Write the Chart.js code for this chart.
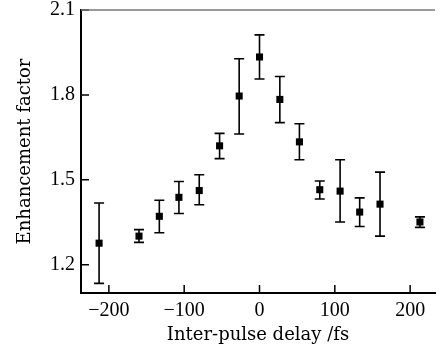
<!DOCTYPE html>
<html lang="en">
<head>
    <meta charset="UTF-8">
    <title>Enhancement factor</title>
    <script src="https://cdn.jsdelivr.net/npm/chart.js"></script>
    <style>
        html, body { margin: 0; padding: 0; background: #fff; }
        #wrap { width: 440px; height: 346px; }
    </style>
</head>
<body>
    <div id="wrap"><canvas id="chart"></canvas></div>

    <script>
        // Data
        const delay = [-213, -160, -133, -107, -80, -53, -27, 0, 27, 53, 80, 107, 133, 160, 213];
        const factor = [1.276, 1.301, 1.371, 1.438, 1.462, 1.620, 1.796, 1.934, 1.784, 1.634, 1.465, 1.460, 1.386, 1.414, 1.351];
        const errTop = [1.418, 1.324, 1.428, 1.494, 1.518, 1.664, 1.928, 2.012, 1.865, 1.698, 1.496, 1.571, 1.436, 1.527, 1.369];
        const errBottom = [1.134, 1.279, 1.313, 1.381, 1.412, 1.575, 1.662, 1.856, 1.702, 1.571, 1.432, 1.351, 1.335, 1.301, 1.332];
        const xTicks = [-200, -100, 0, 100, 200];
        const yTicks = [1.2, 1.5, 1.8, 2.1];

        const points = delay.map((d, i) => ({ x: d, y: factor[i] }));
        // tick digits: narrow serif; axis titles: wider serif
        const tickFont = { family: "'Liberation Serif', serif", size: 20 };
        const titleFont = { family: "'DejaVu Serif', serif", size: 18 };

        // error bars, inward ticks and top frame line
        const extras = {
            id: 'extras',
            afterDatasetsDraw(chart) {
                const ctx = chart.ctx;
                const xs = chart.scales.x, ys = chart.scales.y;
                const area = chart.chartArea;
                ctx.save();
                ctx.strokeStyle = '#000';
                ctx.lineWidth = 1.6;
                delay.forEach((d, i) => {
                    const px = xs.getPixelForValue(d);
                    const t = ys.getPixelForValue(errTop[i]);
                    const b = ys.getPixelForValue(errBottom[i]);
                    ctx.beginPath();
                    ctx.moveTo(px, t); ctx.lineTo(px, b);
                    ctx.moveTo(px - 5, t); ctx.lineTo(px + 5, t);
                    ctx.moveTo(px - 5, b); ctx.lineTo(px + 5, b);
                    ctx.stroke();
                });
                // ticks pointing into the plot
                ctx.lineWidth = 1.5;
                ctx.beginPath();
                yTicks.forEach(v => {
                    const py = ys.getPixelForValue(v);
                    ctx.moveTo(area.left, py); ctx.lineTo(area.left + 8, py);
                });
                xTicks.forEach(v => {
                    const px = xs.getPixelForValue(v);
                    ctx.moveTo(px, area.bottom); ctx.lineTo(px, area.bottom - 8);
                });
                ctx.stroke();
                // top frame line
                ctx.strokeStyle = '#777';
                ctx.lineWidth = 1.5;
                ctx.beginPath();
                ctx.moveTo(area.left, area.top); ctx.lineTo(area.right, area.top);
                ctx.stroke();
                ctx.restore();
            }
        };

        new Chart(document.getElementById('chart'), {
            type: 'scatter',
            data: {
                datasets: [{
                    data: points,
                    pointStyle: 'rect',
                    pointRadius: 5,
                    pointHoverRadius: 5,
                    backgroundColor: '#000',
                    borderColor: '#000',
                    borderWidth: 0
                }]
            },
            options: {
                responsive: true,
                maintainAspectRatio: false,
                animation: false,
                layout: { padding: { top: 10, right: 0, left: 0, bottom: 0 } },
                plugins: { legend: { display: false }, tooltip: { enabled: false } },
                scales: {
                    x: {
                        type: 'linear',
                        min: -237,
                        max: 233,
                        afterBuildTicks: s => { s.ticks = xTicks.map(v => ({ value: v })); },
                        afterFit: s => { s.height = 53; s.paddingLeft = 0; s.paddingRight = 0; },
                        grid: { display: false, drawTicks: false },
                        border: { display: true, color: '#000', width: 2 },
                        ticks: {
                            color: '#000',
                            padding: 6,
                            maxRotation: 0,
                            font: tickFont,
                            callback: v => (v < 0 ? '\u2212' + Math.abs(v) : String(v))
                        },
                        title: {
                            display: true,
                            text: 'Inter-pulse delay /fs',
                            color: '#000',
                            padding: { top: 0, bottom: 0 },
                            font: titleFont
                        }
                    },
                    y: {
                        min: 1.1,
                        max: 2.1,
                        afterBuildTicks: s => { s.ticks = yTicks.map(v => ({ value: v })); },
                        afterFit: s => { s.width = 81; s.paddingTop = 0; s.paddingBottom = 0; },
                        grid: { display: false, drawTicks: false },
                        border: { display: true, color: '#000', width: 2 },
                        ticks: {
                            color: '#000',
                            padding: 6,
                            font: tickFont,
                            callback: v => v.toFixed(1)
                        },
                        title: {
                            display: true,
                            text: 'Enhancement factor',
                            color: '#000',
                            padding: { top: 15, bottom: 0 },
                            font: titleFont
                        }
                    }
                }
            },
            plugins: [extras]
        });
    </script>
</body>
</html>
